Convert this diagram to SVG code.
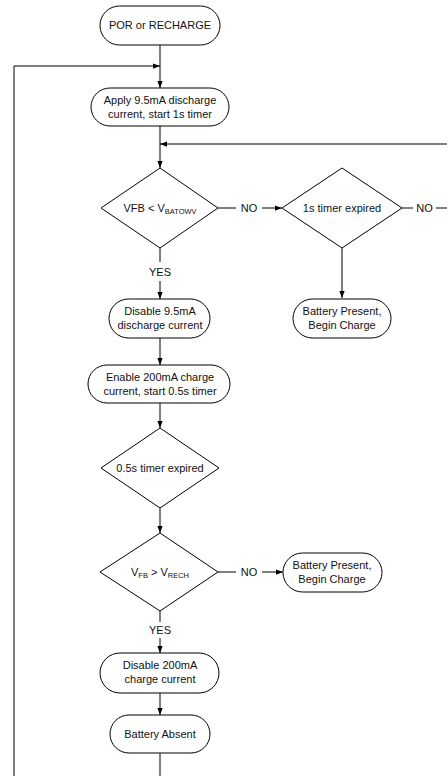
<svg xmlns="http://www.w3.org/2000/svg" width="447" height="776" viewBox="0 0 447 776">
<defs>
<style>
.n{fill:#fff;stroke:#000;stroke-width:1}
.c{fill:none;stroke:#000;stroke-width:1}
text{font-family:"Liberation Sans",Arial,sans-serif;font-size:11px;fill:#111;text-anchor:middle}
.s{font-size:7.5px}
</style>
<marker id="a" viewBox="0 0 8 8" refX="8" refY="4" markerWidth="7" markerHeight="7" markerUnits="userSpaceOnUse" orient="auto">
<path d="M0,1 L8,4 L0,7 Z" fill="#000"/>
</marker>
</defs>
<rect width="447" height="776" fill="#fff"/>
<g id="connectors">
<path class="c" d="M160,45 V88" marker-end="url(#a)"/>
<path class="c" d="M160,753 V790 H14 V66 H160" marker-end="url(#a)"/>
<path class="c" d="M160,126 V168" marker-end="url(#a)"/>
<path class="c" d="M460,144 H160" marker-end="url(#a)"/>
<path class="c" d="M218,208 H236"/>
<path class="c" d="M262,208 H282" marker-end="url(#a)"/>
<path class="c" d="M402,208 H413"/>
<path class="c" d="M436,208 H460"/>
<path class="c" d="M342,248 V298" marker-end="url(#a)"/>
<path class="c" d="M160,248 V262"/>
<path class="c" d="M160,281 V299" marker-end="url(#a)"/>
<path class="c" d="M160,338 V365" marker-end="url(#a)"/>
<path class="c" d="M160,403 V428" marker-end="url(#a)"/>
<path class="c" d="M160,508 V533" marker-end="url(#a)"/>
<path class="c" d="M218,572 H236"/>
<path class="c" d="M262,572 H283" marker-end="url(#a)"/>
<path class="c" d="M160,611 V622"/>
<path class="c" d="M160,638 V653" marker-end="url(#a)"/>
<path class="c" d="M160,693 V715" marker-end="url(#a)"/>
<text x="249" y="212">NO</text>
<text x="424.5" y="212">NO</text>
<text x="160" y="276">YES</text>
<text x="249" y="576">NO</text>
<text x="160" y="634">YES</text>
</g>
<g id="por">
<rect class="n" x="100" y="6" width="120" height="39" rx="19.5"/>
<text x="160" y="29">POR or RECHARGE</text>
</g>
<g id="apply">
<rect class="n" x="91" y="88" width="138" height="38" rx="19"/>
<text x="160" y="104">Apply 9.5mA discharge</text>
<text x="160" y="118">current, start 1s timer</text>
</g>
<g id="dec1">
<polygon class="n" points="160,168 218,208 160,248 101,208"/>
<text x="160" y="212">VFB &lt; V<tspan class="s" dy="1.5">BATOWV</tspan></text>
</g>
<g id="dec2">
<polygon class="n" points="342,168 402,208 342,248 282,208"/>
<text x="342" y="212">1s timer expired</text>
</g>
<g id="present1">
<rect class="n" x="293" y="299" width="98" height="39" rx="19.5"/>
<text x="342" y="315">Battery Present,</text>
<text x="342" y="329">Begin Charge</text>
</g>
<g id="disable95">
<rect class="n" x="109" y="299" width="101" height="39" rx="19.5"/>
<text x="160" y="315">Disable 9.5mA</text>
<text x="160" y="329">discharge current</text>
</g>
<g id="enable200">
<rect class="n" x="88" y="365" width="142" height="38" rx="19"/>
<text x="160" y="381">Enable 200mA charge</text>
<text x="160" y="395">current, start 0.5s timer</text>
</g>
<g id="dec3">
<polygon class="n" points="160,428 219,468 160,508 101,468"/>
<text x="160" y="472">0.5s timer expired</text>
</g>
<g id="dec4">
<polygon class="n" points="160,533 218,572 160,611 100,572"/>
<text x="160" y="576">V<tspan class="s" dy="1.5">FB</tspan><tspan dy="-1.5"> &gt; V</tspan><tspan class="s" dy="1.5">RECH</tspan></text>
</g>
<g id="present2">
<rect class="n" x="283" y="553" width="99" height="39" rx="19.5"/>
<text x="332" y="569">Battery Present,</text>
<text x="332" y="583">Begin Charge</text>
</g>
<g id="disable200">
<rect class="n" x="100" y="653" width="119" height="40" rx="20"/>
<text x="160" y="669">Disable 200mA</text>
<text x="160" y="683">charge current</text>
</g>
<g id="absent">
<rect class="n" x="110" y="715" width="100" height="38" rx="19"/>
<text x="160" y="738">Battery Absent</text>
</g>
</svg>
